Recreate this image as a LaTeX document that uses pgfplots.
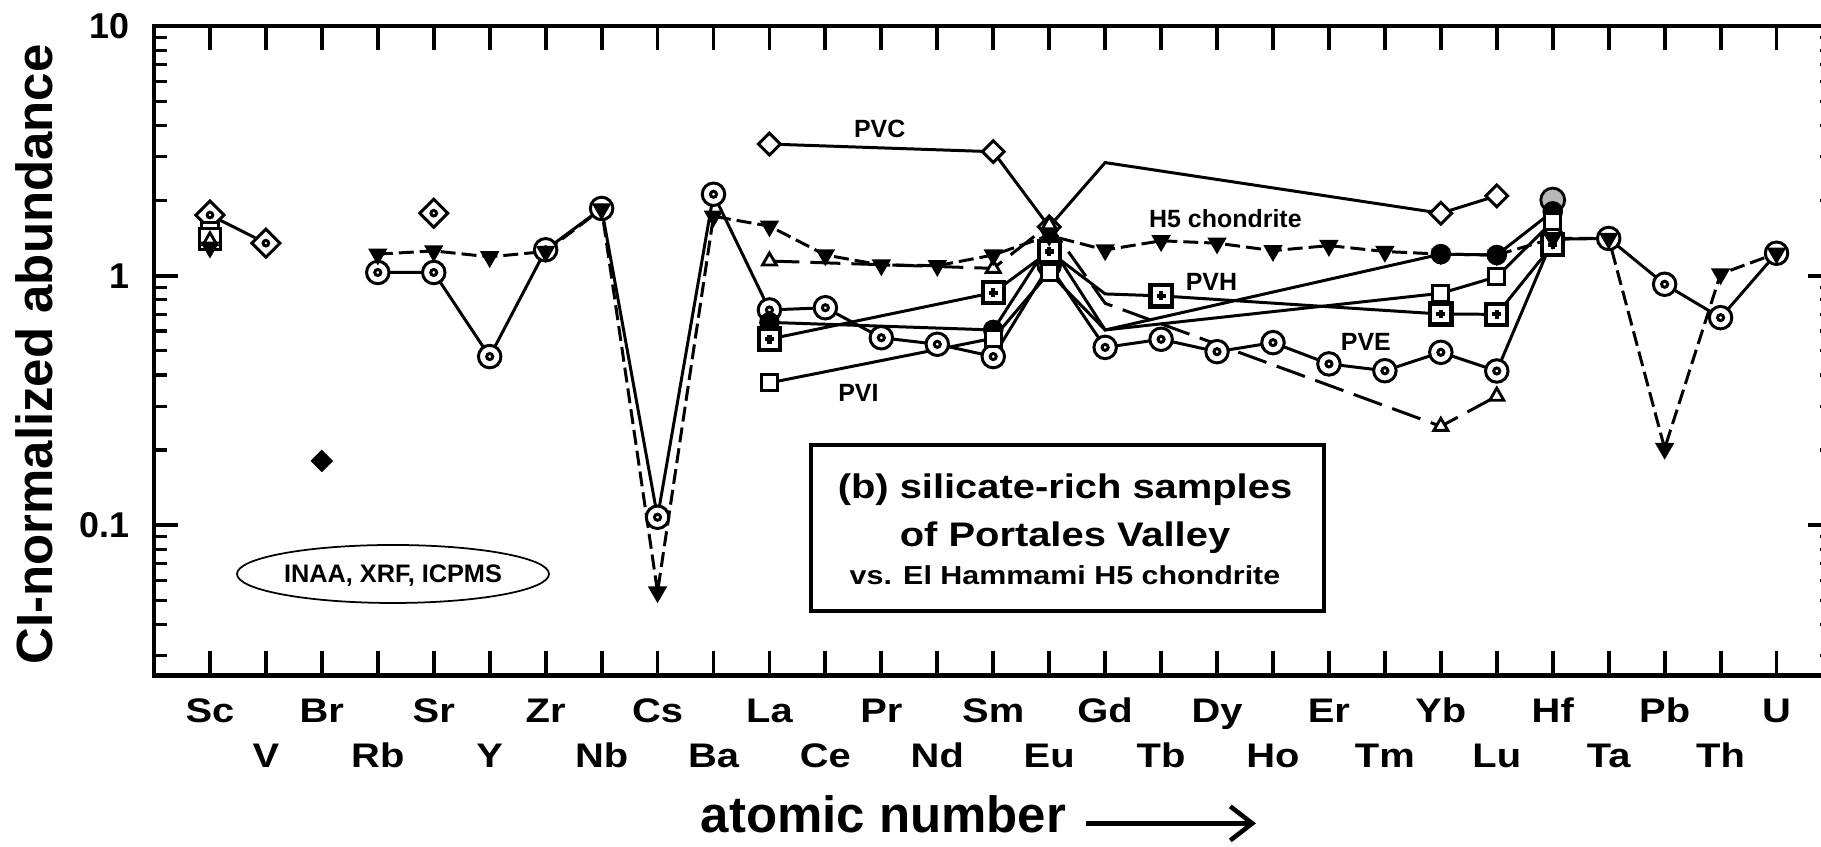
\documentclass[border=0pt]{standalone}
\usepackage{fontspec}
\setmainfont{Liberation Sans}
\newfontfamily\widesans[FakeStretch=1.17]{Liberation Sans}
\usepackage{pgfplots}
\pgfplotsset{compat=1.18}
\usepackage{pgfplotstable}
\usetikzlibrary{arrows.meta}

% open circle with a small ring in the middle
\pgfdeclareplotmark{cdot}{%
  \pgfpathcircle{\pgfpointorigin}{\pgfplotmarksize}\pgfusepathqfillstroke
  \pgfpathcircle{\pgfpointorigin}{0.27\pgfplotmarksize}\pgfusepathqstroke}
% square standing on its corner
\pgfdeclareplotmark{dmd}{%
  \pgfpathmoveto{\pgfqpoint{0pt}{\pgfplotmarksize}}%
  \pgfpathlineto{\pgfqpoint{\pgfplotmarksize}{0pt}}%
  \pgfpathlineto{\pgfqpoint{0pt}{-\pgfplotmarksize}}%
  \pgfpathlineto{\pgfqpoint{-\pgfplotmarksize}{0pt}}%
  \pgfpathclose\pgfusepathqfillstroke}
% same, with a small ring inside
\pgfdeclareplotmark{dmddot}{%
  \pgfpathmoveto{\pgfqpoint{0pt}{\pgfplotmarksize}}%
  \pgfpathlineto{\pgfqpoint{\pgfplotmarksize}{0pt}}%
  \pgfpathlineto{\pgfqpoint{0pt}{-\pgfplotmarksize}}%
  \pgfpathlineto{\pgfqpoint{-\pgfplotmarksize}{0pt}}%
  \pgfpathclose\pgfusepathqfillstroke
  \pgfpathcircle{\pgfpointorigin}{0.2\pgfplotmarksize}\pgfusepathqstroke}
% open square with a bold plus
\pgfdeclareplotmark{sqplus}{%
  \pgfpathrectanglecorners{\pgfqpoint{-\pgfplotmarksize}{-\pgfplotmarksize}}{\pgfqpoint{\pgfplotmarksize}{\pgfplotmarksize}}%
  \pgfusepathqfillstroke
  \pgfsetlinewidth{1.2pt}%
  \pgfpathmoveto{\pgfqpoint{-0.42\pgfplotmarksize}{0pt}}\pgfpathlineto{\pgfqpoint{0.42\pgfplotmarksize}{0pt}}%
  \pgfpathmoveto{\pgfqpoint{0pt}{-0.42\pgfplotmarksize}}\pgfpathlineto{\pgfqpoint{0pt}{0.42\pgfplotmarksize}}%
  \pgfusepathqstroke}

% x: 0 = Sc ... 28 = U ; m = 1 where a symbol is drawn
\pgfplotstableread{
x y m
0 1.30 1
1 nan 1
2 nan 1
3 1.22 1
4 1.257 1
5 1.19 1
6 1.25 1
7 1.85 1
8 0.054 1
9 1.73 1
10 1.58 1
11 1.21 1
12 1.104 1
13 1.097 1
14 1.21 1
15 1.45 1
16 1.268 1
17 1.38 1
18 1.35 1
19 1.26 1
20 1.32 1
21 1.25 1
22 1.22 1
23 1.21 1
24 1.41 1
25 1.41 1
26 0.203 1
27 1.016 1
28 1.23 1
}\hfive

\pgfplotstableread{
x y m
3 1.03 1
4 1.03 1
5 0.474 1
6 1.27 1
7 1.86 1
8 0.1076 1
9 2.12 1
10 0.729 1
11 0.744 1
12 0.564 1
13 0.531 1
14 0.474 1
15 1.10 1
16 0.516 1
17 0.556 1
18 0.496 1
19 0.539 1
20 0.443 1
21 0.416 1
22 0.493 1
23 0.415 1
24 1.40 1
25 1.41 1
26 0.924 1
27 0.679 1
28 1.23 1
}\pve

\pgfplotstableread{
x y m
0 1.75 1
1 1.35 1
2 nan 1
3 nan 1
4 1.78 1
}\dmdser

\pgfplotstableread{
x y m
10 3.37 1
14 3.14 1
15 1.57 1
16 2.84 0
22 1.78 1
23 2.09 1
}\pvc

\pgfplotstableread{
x y m
0 1.40 1
1 nan 1
10 0.557 1
14 0.855 1
15 1.25 1
16 0.845 0
17 0.83 1
22 0.702 1
23 0.70 1
24 1.33 1
}\pvh

\pgfplotstableread{
x y m
0 1.52 1
1 nan 1
10 0.372 1
14 0.561 1
15 1.03 1
16 0.606 0
22 0.85 1
23 0.99 1
24 1.65 1
}\pvi

\pgfplotstableread{
x y m
10 0.65 1
14 0.606 1
15 1.35 1
16 0.606 0
22 1.22 1
23 1.21 1
24 1.81 1
}\fcirc

\pgfplotstableread{
x y m
0 1.38 1
1 nan 1
10 1.145 1
14 1.07 1
15 1.60 1
16 0.775 0
22 0.249 1
23 0.329 1
}\otri

\pgfplotstableread{
x y
24 2.01
}\gcirc

\pgfplotstableread{
x y
2 0.181
}\brpt

\begin{document}
\begin{tikzpicture}
\useasboundingbox (-1.54cm,-1.716cm) rectangle (16.67cm,6.754cm);
\begin{axis}[
  at={(0cm,0cm)}, anchor=south west,
  scale only axis, width=16.785cm, height=6.492cm,
  xmin=-1, xmax=29,
  ymode=log, ymin=0.025, ymax=10,
  axis line style={line width=1.3pt},
  major tick style={line width=1.1pt, black},
  minor tick style={line width=0.9pt, black},
  major tick length=2.4mm, minor tick length=1.3mm,
  xtick={0,2,...,28},
  xticklabels={Sc,Br,Sr,Zr,Cs,La,Pr,Sm,Gd,Dy,Er,Yb,Hf,Pb,U},
  extra x ticks={1,3,...,27},
  extra x tick labels={V,Rb,Y,Nb,Ba,Ce,Nd,Eu,Tb,Ho,Tm,Lu,Ta,Th},
  extra x tick style={xticklabel style={yshift=-4.5mm}},
  xticklabel style={anchor=base, yshift=-4.76mm,
    font=\widesans\bfseries\fontsize{9.7pt}{11pt}\selectfont},
  ytick={0.1,1,10}, yticklabels={0.1,1,10},
  minor ytick={0.03,0.04,0.05,0.06,0.07,0.08,0.09,0.2,0.3,0.4,0.5,0.6,0.7,0.8,0.9,2,3,4,5,6,7,8,9},
  yticklabel style={font=\bfseries\fontsize{10.2pt}{12pt}\selectfont, xshift=-1.2mm},
  unbounded coords=jump,
  every axis plot/.append style={line width=0.85pt, black},
]
% ---- connecting lines ----
\addplot[no marks, dash pattern=on 1.5mm off 0.6mm] table {\hfive};
\addplot[no marks] table {\pve};
\addplot[no marks] table {\dmdser};
\addplot[no marks] table {\pvc};
\addplot[no marks] table {\pvh};
\addplot[no marks] table {\pvi};
\addplot[no marks] table {\fcirc};
\addplot[no marks, dash pattern=on 3mm off 1.1mm] table {\otri};
% ---- symbols ----
\addplot[only marks, mark=*, mark size=3.4pt, mark options={fill=black!28, line width=0.8pt}] table {\gcirc};
\addplot[only marks, mark=dmddot, mark size=4pt, mark options={fill=white, line width=0.85pt}] table {\dmdser};
\addplot[only marks, mark=cdot, mark size=3.2pt, mark options={fill=white, line width=0.85pt}] table {\pve};
\addplot[only marks, mark=dmd, mark size=3.1pt, mark options={fill=white, line width=0.85pt},
  restrict expr to domain={\thisrow{m}}{0.5:1.5}] table {\pvc};
\addplot[only marks, mark=*, mark size=2.5pt, mark options={fill=black},
  restrict expr to domain={\thisrow{m}}{0.5:1.5}] table {\fcirc};
\addplot[only marks, mark=square*, mark size=2.3pt, mark options={fill=white, line width=0.85pt},
  restrict expr to domain={\thisrow{m}}{0.5:1.5}] table {\pvi};
\addplot[only marks, mark=sqplus, mark size=3pt, mark options={fill=white, line width=0.85pt},
  restrict expr to domain={\thisrow{m}}{0.5:1.5}] table {\pvh};
\addplot[only marks, mark=triangle*, mark size=2.3pt, mark options={fill=white, line width=0.8pt},
  restrict expr to domain={\thisrow{m}}{0.5:1.5}] table {\otri};
\addplot[only marks, mark=triangle*, mark size=2.6pt, mark options={fill=black, rotate=180, line width=0.6pt}] table {\hfive};
\addplot[only marks, mark=dmd, mark size=2.85pt, mark options={fill=black, line width=0.5pt}] table {\brpt};
% ---- series names ----
\begin{scope}[every node/.style={font=\bfseries\fontsize{7.1pt}{8pt}\selectfont}]
\node at (axis cs:11.97,3.86) {PVC};
\node at (axis cs:11.59,0.34) {PVI};
\node at (axis cs:18.15,1.70) {H5 chondrite};
\node at (axis cs:17.9,0.946) {PVH};
\node at (axis cs:20.66,0.544) {PVE};
\end{scope}
\end{axis}
% method note
\draw[line width=0.5pt] (2.39cm,1.014cm) ellipse [x radius=1.56cm, y radius=0.29cm];
\node[anchor=base, font=\bfseries\fontsize{7.2pt}{8pt}\selectfont] at (2.39cm,0.927cm) {INAA, XRF, ICPMS};
% panel caption
\draw[line width=1.1pt, fill=white] (6.57cm,0.644cm) rectangle (11.70cm,2.304cm);
\node[anchor=base, font=\widesans\bfseries\fontsize{9.7pt}{11pt}\selectfont] at (9.11cm,1.764cm) {(b) silicate-rich samples};
\node[anchor=base, font=\widesans\bfseries\fontsize{9.7pt}{11pt}\selectfont] at (9.11cm,1.287cm) {of Portales Valley};
\node[anchor=base, font=\widesans\bfseries\fontsize{7.4pt}{9pt}\selectfont] at (9.11cm,0.904cm) {vs. El Hammami H5 chondrite};
% axis titles
\node[rotate=90, anchor=base, font=\bfseries\fontsize{14.5pt}{16pt}\selectfont] at (-1.01cm,3.209cm) {CI-normalized abundance};
\node[anchor=base west, inner sep=0pt, font=\bfseries\fontsize{14.5pt}{16pt}\selectfont] at (5.46cm,-1.576cm) {atomic number};
\draw[line width=1.3pt, -{Straight Barb[length=2.2mm, width=3.4mm]}] (9.32cm,-1.48cm) -- (11.02cm,-1.48cm);
\end{tikzpicture}
\end{document}
